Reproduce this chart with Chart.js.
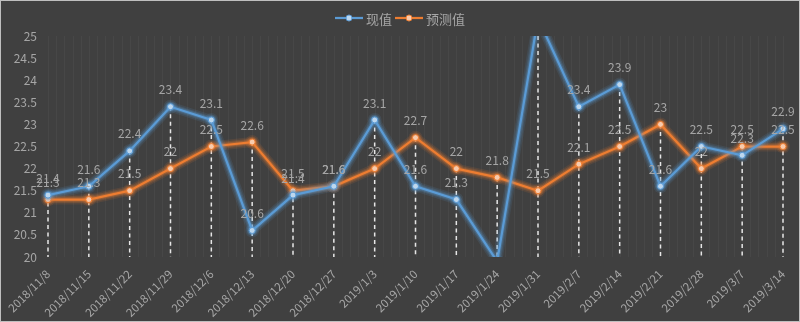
<!DOCTYPE html>
<html>
<head>
<meta charset="utf-8">
<script src="https://cdn.jsdelivr.net/npm/chart.js@4/dist/chart.umd.min.js"></script>
<style>
  html, body { margin: 0; padding: 0; background: #404040; }
  #wrap { width: 800px; height: 322px; box-sizing: border-box; border: 1px solid #bfbfbf; background: #404040; }
  #box { position: relative; width: 798px; height: 320px; }
</style>
</head>
<body>
<div id="wrap"><div id="box"><canvas id="chart"></canvas></div></div>
<script>
const dates = ['2018/11/8', '2018/11/15', '2018/11/22', '2018/11/29', '2018/12/6', '2018/12/13',
    '2018/12/20', '2018/12/27', '2019/1/3', '2019/1/10', '2019/1/17', '2019/1/24', '2019/1/31',
    '2019/2/7', '2019/2/14', '2019/2/21', '2019/2/28', '2019/3/7', '2019/3/14'];
const actual = [21.4, 21.6, 22.4, 23.4, 23.1, 20.6, 21.4, 21.6, 23.1, 21.6, 21.3, 19.9, 25.4,
    23.4, 23.9, 21.6, 22.5, 22.3, 22.9];
const forecast = [21.3, 21.3, 21.5, 22, 22.5, 22.6, 21.5, 21.6, 22, 22.7, 22, 21.8, 21.5,
    22.1, 22.5, 23, 22, 22.5, 22.5];
const seriesNames = ['现值', '预测值'];
const yMin = 20, yMax = 25, yStep = 0.5;

const textGrey = '#a6a6a6';
const fontFamily = '"Noto Sans CJK SC", "DejaVu Sans", sans-serif';
const glowColors = ['91,155,213', '237,125,49'];

// faint minor lines + dashed drop lines, behind the series
const backdrop = {
    id: 'backdrop',
    beforeDatasetsDraw(chart) {
        const { ctx, chartArea: a, scales: { x, y } } = chart;
        const step = x.getPixelForValue(1) - x.getPixelForValue(0);
        ctx.save();
        ctx.strokeStyle = 'rgba(255,255,255,0.04)';
        ctx.lineWidth = 1;
        for (let px = x.getPixelForValue(0) - step; px <= a.right + 1; px += step / 5) {
            if (px < a.left - 6) continue;
            ctx.beginPath();
            ctx.moveTo(Math.round(px) + 0.5, a.top);
            ctx.lineTo(Math.round(px) + 0.5, a.bottom);
            ctx.stroke();
        }
        ctx.strokeStyle = '#e6e6e6';
        ctx.lineWidth = 1.5;
        ctx.setLineDash([4, 3.5]);
        dates.forEach((d, i) => {
            const top = Math.max(y.getPixelForValue(Math.max(actual[i], forecast[i])), a.top);
            const px = x.getPixelForValue(i);
            ctx.beginPath();
            ctx.moveTo(px, top);
            ctx.lineTo(px, a.bottom);
            ctx.stroke();
        });
        ctx.restore();
    }
};

// soft glow around each line, stroked under it from the line's own points
const glow = {
    id: 'glow',
    beforeDatasetDraw(chart, args) {
        const { ctx, chartArea: a } = chart;
        const pts = args.meta.data;
        const rgb = glowColors[args.index];
        ctx.save();
        ctx.beginPath();
        ctx.rect(a.left - 8, a.top, a.right - a.left + 16, a.bottom - a.top);
        ctx.clip();
        ctx.lineJoin = 'round';
        ctx.lineCap = 'round';
        [[10, 0.12], [7, 0.18], [4.5, 0.3]].forEach(([w, al]) => {
            ctx.strokeStyle = `rgba(${rgb},${al})`;
            ctx.lineWidth = w;
            ctx.beginPath();
            pts.forEach((p, i) => i ? ctx.lineTo(p.x, p.y) : ctx.moveTo(p.x, p.y));
            ctx.stroke();
            ctx.fillStyle = `rgba(${rgb},${al})`;
            pts.forEach((p) => {
                ctx.beginPath();
                ctx.arc(p.x, p.y, w / 2 + 2, 0, Math.PI * 2);
                ctx.fill();
            });
        });
        ctx.restore();
    }
};

const valueLabels = {
    id: 'valueLabels',
    afterDatasetsDraw(chart) {
        const ctx = chart.ctx;
        ctx.save();
        ctx.font = '12px ' + fontFamily;
        ctx.fillStyle = textGrey;
        ctx.textAlign = 'center';
        ctx.textBaseline = 'middle';
        chart.data.datasets.forEach((ds, di) => {
            chart.getDatasetMeta(di).data.forEach((pt, i) => {
                const v = ds.data[i];
                if (v < yMin || v > yMax) return;
                ctx.fillText(String(v), pt.x, pt.y - 17);
            });
        });
        ctx.restore();
    }
};

const legendBox = {
    id: 'legendBox',
    afterDraw(chart) {
        const ctx = chart.ctx;
        const colors = ['#5b9bd5', '#ed7d31'];
        const fills = ['#bdd7ee', '#f8cbad'];
        ctx.save();
        ctx.font = '13px ' + fontFamily;
        const widths = seriesNames.map(n => ctx.measureText(n).width);
        const total = widths.reduce((s, w) => s + w + 31, 0) + 3;
        let cx = chart.width / 2 - total / 2;
        const cy = 17;
        seriesNames.forEach((n, i) => {
            ctx.strokeStyle = colors[i];
            ctx.lineWidth = 2.25;
            ctx.beginPath();
            ctx.moveTo(cx, cy);
            ctx.lineTo(cx + 28, cy);
            ctx.stroke();
            ctx.beginPath();
            ctx.arc(cx + 14, cy, 3, 0, Math.PI * 2);
            ctx.fillStyle = fills[i];
            ctx.fill();
            ctx.lineWidth = 1;
            ctx.stroke();
            ctx.fillStyle = textGrey;
            ctx.textBaseline = 'middle';
            ctx.fillText(n, cx + 31, cy + 1);
            cx += 31 + widths[i] + 3;
        });
        ctx.restore();
    }
};

new Chart(document.getElementById('chart'), {
    type: 'line',
    data: {
        labels: dates,
        datasets: [{
            label: seriesNames[0],
            data: actual,
            borderColor: '#5b9bd5',
            borderWidth: 2.25,
            pointRadius: 3,
            pointBackgroundColor: '#bdd7ee',
            pointBorderColor: '#5b9bd5',
            pointBorderWidth: 1,
            tension: 0
        }, {
            label: seriesNames[1],
            data: forecast,
            borderColor: '#ed7d31',
            borderWidth: 2.25,
            pointRadius: 3,
            pointBackgroundColor: '#f8cbad',
            pointBorderColor: '#ed7d31',
            pointBorderWidth: 1,
            tension: 0
        }]
    },
    options: {
        responsive: true,
        maintainAspectRatio: false,
        animation: false,
        layout: { padding: { top: 35, right: 16, left: 0, bottom: 0 } },
        scales: {
            x: {
                offset: false,
                grid: { display: false },
                border: { display: false },
                ticks: {
                    color: textGrey,
                    font: { size: 11.5, family: fontFamily },
                    minRotation: 45,
                    maxRotation: 45,
                    autoSkip: false,
                    padding: 2
                },
                afterFit(scale) { scale.height = 64; }
            },
            y: {
                min: yMin,
                max: yMax,
                grid: { display: false, drawTicks: false },
                border: { display: false },
                ticks: {
                    stepSize: yStep,
                    color: textGrey,
                    font: { size: 12, family: fontFamily },
                    padding: 11,
                    callback: (v) => String(Math.round(v * 10) / 10)
                },
                afterFit(scale) { scale.width = 47; }
            }
        },
        plugins: {
            legend: { display: false },
            tooltip: { enabled: false }
        }
    },
    plugins: [backdrop, glow, valueLabels, legendBox]
});
</script>
</body>
</html>
